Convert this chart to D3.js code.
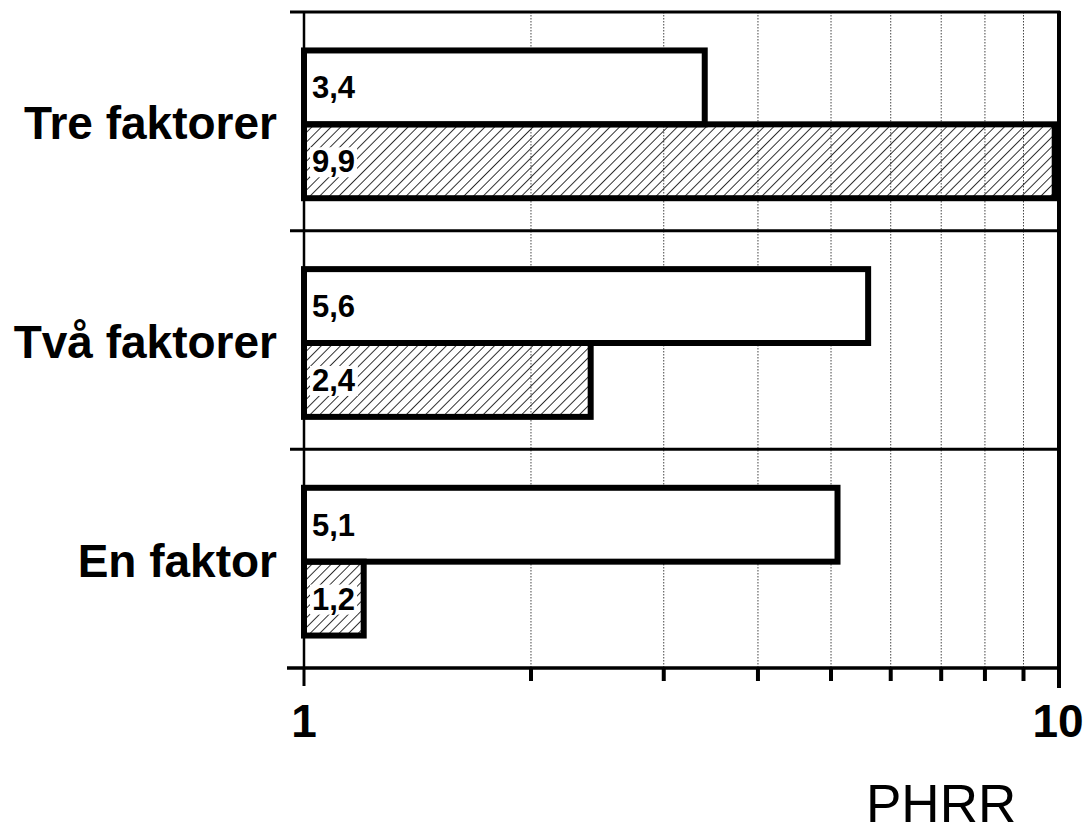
<!DOCTYPE html>
<html>
<head>
<meta charset="utf-8">
<script src="https://cdn.jsdelivr.net/npm/d3@7"></script>
<style>
  body { margin: 0; background: #fff; }
  svg { display: block; }
</style>
</head>
<body>
<script>
// Categories (top to bottom) and the two series
const categories = ["Tre faktorer", "Två faktorer", "En faktor"];
const seriesKeys = ["open", "hatched"];
const openValues = [3.4, 5.6, 5.1];
const hatchedValues = [9.9, 2.4, 1.2];
const valueLabels = [["3,4", "9,9"], ["5,6", "2,4"], ["5,1", "1,2"]];
const xMajorTicks = [1, 10];
const xMajorTickLabels = ["1", "10"];
const xMinorTicks = [2, 3, 4, 5, 6, 7, 8, 9];
const axisTitle = "PHRR";

const W = 1085, H = 826;
const plotLeft = 304, plotRight = 1058, plotTop = 12, plotBottom = 668;

const svg = d3.select("body").append("svg")
  .attr("width", W).attr("height", H)
  .style("font-family", "Arial, 'Liberation Sans', Helvetica, sans-serif");

// Diagonal hatching
const defs = svg.append("defs");
defs.append("pattern")
  .attr("id", "hatch")
  .attr("patternUnits", "userSpaceOnUse")
  .attr("width", 6.8).attr("height", 6.8)
  .attr("patternTransform", "rotate(45)")
  .append("line")
  .attr("x1", 0).attr("y1", 0).attr("x2", 0).attr("y2", 6.8)
  .attr("stroke", "#000").attr("stroke-width", 1.6);

const x = d3.scaleLog().domain([1, 10]).range([plotLeft, plotRight]);
const y0 = d3.scaleBand().domain(categories).range([plotTop, plotBottom]).padding(0);
const y1 = d3.scaleBand().domain(seriesKeys).range([0, y0.bandwidth()])
  .paddingInner(0).paddingOuter(0.48);
const barShift = 3;

// Dotted gridlines at the minor ticks
svg.append("g").selectAll("line").data(xMinorTicks).join("line")
  .attr("x1", d => x(d)).attr("x2", d => x(d))
  .attr("y1", plotTop).attr("y2", plotBottom)
  .attr("stroke", "#444").attr("stroke-width", 1)
  .attr("stroke-dasharray", "1.5,1.5");

// Band separators and top border with left tick marks
const sepYs = categories.map(c => y0(c));
svg.append("g").selectAll("line").data(sepYs).join("line")
  .attr("x1", plotLeft - 14).attr("x2", plotRight + 2)
  .attr("y1", d => d).attr("y2", d => d)
  .attr("stroke", "#000").attr("stroke-width", 3);

// Left axis line
svg.append("line")
  .attr("x1", plotLeft).attr("x2", plotLeft)
  .attr("y1", plotTop).attr("y2", plotBottom)
  .attr("stroke", "#000").attr("stroke-width", 2.5);

// Bars
const rows = categories.map((c, i) => ({
  cat: c,
  bars: [
    { key: "open", value: openValues[i], label: valueLabels[i][0] },
    { key: "hatched", value: hatchedValues[i], label: valueLabels[i][1] }
  ]
}));

const groups = svg.append("g").selectAll("g").data(rows).join("g")
  .attr("transform", d => `translate(0,${y0(d.cat) + barShift})`);

groups.selectAll("rect").data(d => d.bars).join("rect")
  .attr("x", x(1))
  .attr("y", d => y1(d.key))
  .attr("width", d => x(d.value) - x(1))
  .attr("height", y1.bandwidth())
  .attr("fill", d => d.key === "hatched" ? "url(#hatch)" : "#fff")
  .attr("stroke", "#000").attr("stroke-width", 6);

// Value labels with a white background
groups.each(function (row) {
  const g = d3.select(this);
  row.bars.forEach(b => {
    const cy = y1(b.key) + y1.bandwidth() / 2;
    const t = g.append("text")
      .attr("x", x(1) + 8)
      .attr("y", cy + 11)
      .attr("font-size", 31).attr("font-weight", "bold")
      .attr("fill", "#000")
      .text(b.label);
    const bb = t.node().getBBox();
    g.insert("rect", () => t.node())
      .attr("x", bb.x - 2).attr("y", bb.y + 3)
      .attr("width", bb.width + 4).attr("height", bb.height - 5)
      .attr("fill", "#fff");
  });
});

// Category labels
svg.append("g").selectAll("text").data(categories).join("text")
  .attr("x", plotLeft - 27)
  .attr("y", d => y0(d) + y0.bandwidth() / 2 + 18)
  .attr("text-anchor", "end")
  .attr("font-size", 46).attr("font-weight", "bold")
  .text(d => d);

// Bottom axis line
svg.append("line")
  .attr("x1", plotLeft - 17).attr("x2", plotRight + 2)
  .attr("y1", plotBottom).attr("y2", plotBottom)
  .attr("stroke", "#000").attr("stroke-width", 3.5);

// Right border
svg.append("line")
  .attr("x1", plotRight + 1).attr("x2", plotRight + 1)
  .attr("y1", plotTop - 1).attr("y2", plotBottom + 20)
  .attr("stroke", "#000").attr("stroke-width", 4);

// Minor ticks
svg.append("g").selectAll("line").data(xMinorTicks).join("line")
  .attr("x1", d => x(d)).attr("x2", d => x(d))
  .attr("y1", plotBottom).attr("y2", plotBottom + 13)
  .attr("stroke", "#000").attr("stroke-width", 4);

// Major tick at 1
svg.append("line")
  .attr("x1", x(1)).attr("x2", x(1))
  .attr("y1", plotBottom).attr("y2", plotBottom + 18)
  .attr("stroke", "#000").attr("stroke-width", 3);

// Major tick labels
svg.append("g").selectAll("text").data(xMajorTicks).join("text")
  .attr("x", d => x(d))
  .attr("y", 737)
  .attr("text-anchor", "middle")
  .attr("font-size", 46).attr("font-weight", "bold")
  .text((d, i) => xMajorTickLabels[i]);

// Axis title
svg.append("text")
  .attr("x", 866).attr("y", 822)
  .attr("font-size", 53)
  .text(axisTitle);
</script>
</body>
</html>
